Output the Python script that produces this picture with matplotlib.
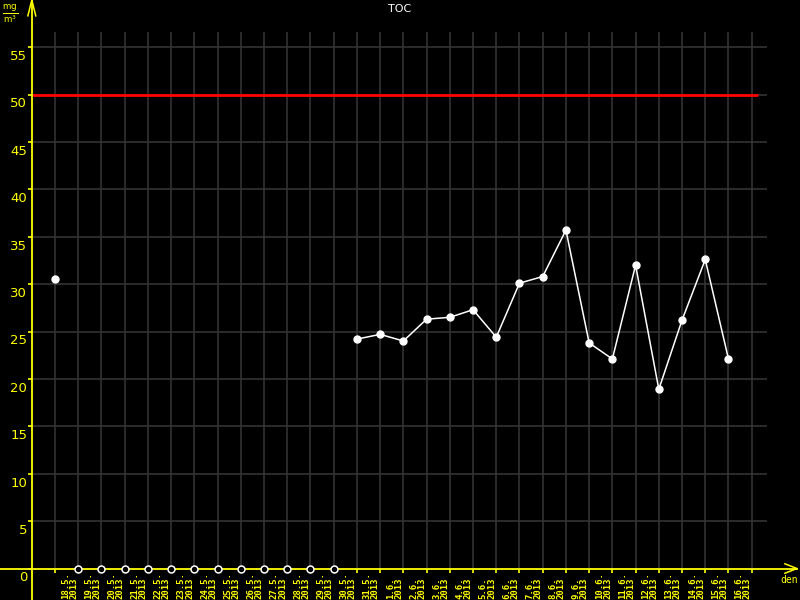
import matplotlib
matplotlib.use('Agg')
import matplotlib.pyplot as plt
import numpy as np

# data
dates = ['18.5.', '19.5.', '20.5.', '21.5.', '22.5.', '23.5.', '24.5.', '25.5.',
         '26.5.', '27.5.', '28.5.', '29.5.', '30.5.', '31.5.', '1.6.', '2.6.',
         '3.6.', '4.6.', '5.6.', '6.6.', '7.6.', '8.6.', '9.6.', '10.6.', '11.6.',
         '12.6.', '13.6.', '14.6.', '15.6.', '16.6.']
year = '2013'
toc = [30.5, None, None, None, None, None, None, None, None, None, None, None, None,
       24.2, 24.7, 24.0, 26.3, 26.5, 27.3, 24.4, 30.1, 30.8, 35.7, 23.8, 22.1,
       32.0, 18.9, 26.2, 32.6, 22.1]
limit = 50
yticks = list(range(0, 60, 5))

YEL = '#ffff00'
GRID = '#333333'

x = np.arange(len(dates))
vals = np.array([np.nan if v is None else v for v in toc])
missing = np.isnan(vals)

fig = plt.figure(figsize=(8, 6), dpi=100, facecolor='black')
ax = fig.add_axes([0, 0, 1, 1], facecolor='black')
ax.set_xlim(-2.37, 32.08)
ax.set_ylim(-3.32, 59.97)
ax.axis('off')

# grid
ax.hlines(yticks[1:], -1, 30.66, color=GRID, lw=1.2, zorder=1)
ax.vlines(np.arange(len(dates) + 1), 0, 56.6, color=GRID, lw=1.2, zorder=1)

# limit line
ax.hlines(limit, -1, 30.25, color='#ff0000', lw=2, zorder=2)

# axes
ax.plot([-1, -1], [-3.32, 59.97], color=YEL, lw=1.3, zorder=3)
ax.plot([-2.37, 31.95], [0, 0], color=YEL, lw=1.3, zorder=3)
ax.plot([-1.17, -1, -0.83], [58.3, 59.97, 58.3], color=YEL, lw=1.1, zorder=3)
ax.plot([31.43, 31.95, 31.43], [0.5, 0, -0.5], color=YEL, lw=1.1, zorder=3)
ax.hlines(yticks, -1.17, -1, color=YEL, lw=1.2, zorder=3)
ax.vlines(np.arange(len(dates) + 1), -0.42, 0, color=YEL, lw=1.2, zorder=3)

for v in yticks:
    ax.text(-1.2, v - 0.3, str(v), color=YEL, fontsize=9.5, ha='right', va='top')

for i, d in enumerate(dates):
    ax.text(i + 0.62, -3.2, d + '\n' + year, color=YEL, fontsize=6.5,
            family='DejaVu Sans Mono', weight='bold', rotation=90,
            ha='center', va='bottom', multialignment='left', linespacing=0.9)

# data
ax.plot(x, vals, color='white', lw=1.1, marker='o', ms=5, zorder=5)
ax.plot(x[missing], np.zeros(missing.sum()), ls='none', marker='o', ms=5,
        mfc='black', mec='white', mew=1.1, zorder=5)

ax.text(0.5, 1 - 9 / 600, 'TOC', color='white', fontsize=8,
        transform=ax.transAxes, ha='center', va='center')
ax.text(0.998, 1 - 580 / 600, 'den', color=YEL, fontsize=7,
        family='DejaVu Sans Mono', transform=ax.transAxes, ha='right', va='center')
ax.text(-1.95, 58.5, r'$\frac{\rm mg}{\rm m^3}$', color=YEL, fontsize=9,
        ha='center', va='center')

fig.savefig('out.png', dpi=100, facecolor='black')
